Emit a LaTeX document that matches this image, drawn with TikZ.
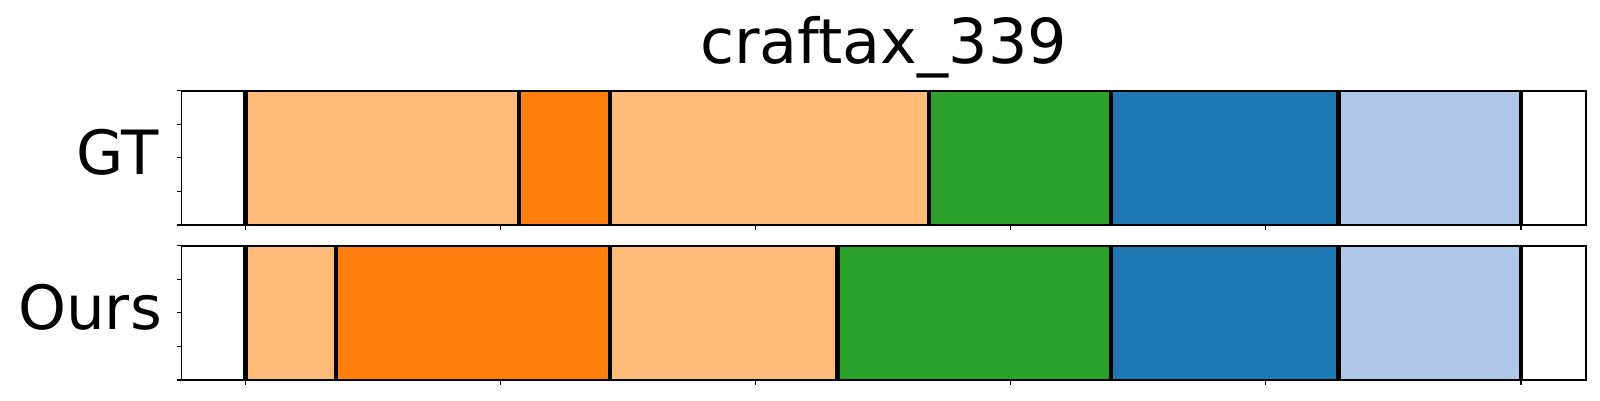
\documentclass[tikz,border=0pt]{standalone}
\usepackage{fontspec}
\setmainfont{DejaVu Sans}
\usepackage{tikz}
\usetikzlibrary{positioning}
\definecolor{tabPeach}{HTML}{FFBB78}
\definecolor{tabOrange}{HTML}{FF7F0E}
\definecolor{tabGreen}{HTML}{2CA02C}
\definecolor{tabBlue}{HTML}{1F77B4}
\definecolor{tabSky}{HTML}{AEC7E8}
\tikzset{
    every picture/.style={x=1pt,y=-1pt},
    spine/.style={line width=1.6pt, line join=miter},
    cut/.style={line width=4.6pt},
    tickmark/.style={line width=1.1pt},
    label/.style={inner sep=0pt, font=\fontsize{61}{70}\selectfont},
}
\begin{document}
\begin{tikzpicture}[
                    seg/.style={draw=#1, line width=0.6pt, fill=#1},
                    ]
    \useasboundingbox (0,0) rectangle (1600,400);
    \node[inner sep=0pt, anchor=base, font=\fontsize{62}{72}\selectfont]
        (title) at (883.6,63.3) {craftax\_339};
    % GT panel
    \foreach \a/\b/\c in {245.6/519/tabPeach, 519/610/tabOrange, 610/929/tabPeach,
                          929/1111/tabGreen, 1111/1338.7/tabBlue, 1338.7/1521/tabSky}
        \path[seg=\c] (\a,90.7) rectangle (\b,225);
    \foreach \x in {245.6,519,610,929,1111,1338.7,1521}
        \draw[cut] (\x,90.7) -- (\x,225);
    \draw[spine] (181.5,90.7) rectangle (1585.7,225);
    \node[label, anchor=base east] (gt) at (159,174.3) {GT};
    % Ours panel
    \foreach \a/\b/\c in {245.6/336/tabPeach, 336/610/tabOrange, 610/837.7/tabPeach,
                          837.7/1111/tabGreen, 1111/1338.7/tabBlue, 1338.7/1521/tabSky}
        \path[seg=\c] (\a,245.7) rectangle (\b,380);
    \foreach \x in {245.6,336,610,837.7,1111,1338.7,1521}
        \draw[cut] (\x,245.7) -- (\x,380);
    \draw[spine] (181.5,245.7) rectangle (1585.7,380);
    \node[label, anchor=base east] (ours) at (162,329.4) {Ours};
    % ticks
    \foreach \top in {90.7,245.7} {
        \foreach \k in {0,...,4}
            \draw[tickmark] (176.5,\top+33.575*\k) -- (181.5,\top+33.575*\k);
        \foreach \k in {0,...,5}
            \draw[tickmark] (245.6+255.08*\k,\top+134.3) -- (245.6+255.08*\k,\top+139.5);
    }
\end{tikzpicture}
\end{document}
